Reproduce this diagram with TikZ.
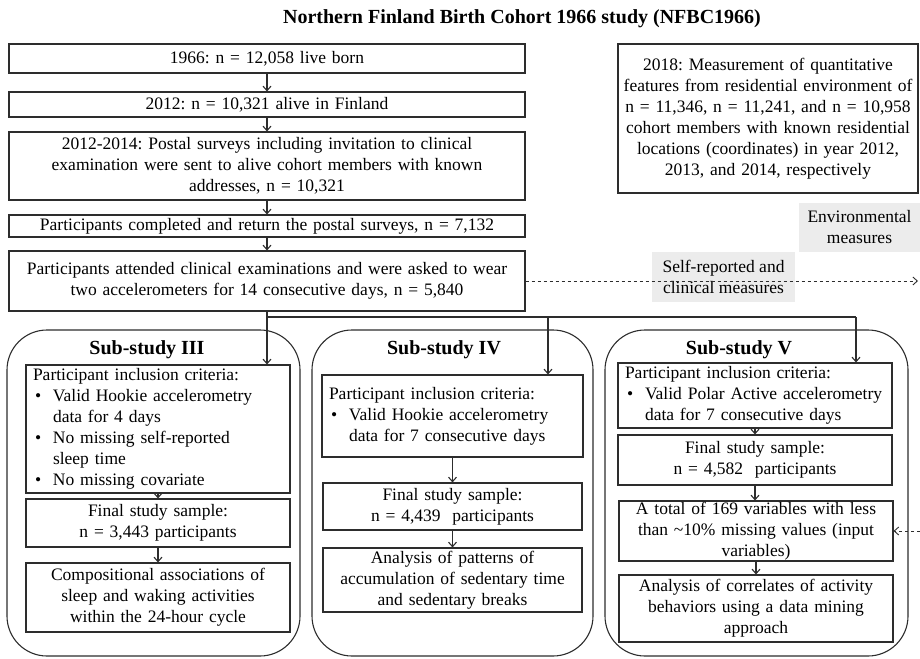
\documentclass[tikz,border=0pt]{standalone}
\usepackage{fontspec}
\setmainfont{Liberation Serif}
\usetikzlibrary{arrows.meta,calc}
\definecolor{lbl}{RGB}{236,236,236}
\definecolor{ln}{RGB}{45,45,45}
\newcommand\fsz{\fontsize{17.5}{21}\selectfont}
\newcommand\tsz{\fontsize{20}{24}\selectfont\bfseries}
\newcommand\bul{\makebox[20pt][l]{\hspace{2pt}•}}
\newcommand\ind{\hspace*{20pt}}
\frenchspacing
\begin{document}
\begin{tikzpicture}[x=1pt,y=-1pt,
  box/.style={draw=ln,line width=1.1pt,inner sep=0pt,align=center,font=\fsz},
  lbox/.style={box,align=left,inner xsep=7pt},
  group/.style={draw=ln,line width=1.1pt,rounded corners=40pt,inner sep=0pt},
  arr/.style={draw=ln,line width=1.1pt,-{Straight Barb[length=4.5pt,width=8pt]}},
  plain/.style={draw=ln,line width=1.1pt},
  dsh/.style={dash pattern=on 3.5pt off 2.5pt,line width=0.9pt},
  lab/.style={fill=lbl,inner sep=0pt,align=center,font=\fsz},
  ttl/.style={font=\tsz,inner sep=0pt}]
\useasboundingbox (0,0) rectangle (920,658);

\node[ttl] (title) at (522,19) {Northern Finland Birth Cohort 1966 study (NFBC1966)};

\node[box,minimum width=516pt,minimum height=29pt,text width=500pt] (b1) at (267,58.5) {1966: n = 12,058 live born};
\node[box,minimum width=516pt,minimum height=25pt,text width=500pt] (b2) at (267,104.5) {2012: n = 10,321 alive in Finland};
\node[box,minimum width=516pt,minimum height=68pt,text width=500pt] (b3) at (267,166) {2012-2014: Postal surveys including invitation to clinical\\examination were sent to alive cohort members with known\\addresses, n = 10,321};
\node[box,minimum width=516pt,minimum height=22pt,text width=500pt] (b4) at (267,226) {Participants completed and return the postal surveys, n = 7,132};
\node[box,minimum width=516pt,minimum height=60pt,text width=500pt] (b5) at (267,281) {Participants attended clinical examinations and were asked to wear\\two accelerometers for 14 consecutive days, n = 5,840};

\node[box,minimum width=300pt,minimum height=149pt,text width=292pt] (rb) at (768,118.5) {2018: Measurement of quantitative\\features from residential environment of\\n = 11,346, n = 11,241, and n = 10,958\\cohort members with known residential\\locations (coordinates) in year 2012,\\2013, and 2014, respectively};

\node[lab,minimum width=121pt,minimum height=49pt] (env) at (859.5,227.5) {Environmental\\measures};
\node[lab,minimum width=143pt,minimum height=50pt] (self) at (723.5,277) {Self-reported and\\clinical measures};

\node[group,minimum width=293pt,minimum height=326pt] (g3) at (153.5,493) {};
\node[group,minimum width=281pt,minimum height=326pt] (g4) at (452.5,493) {};
\node[group,minimum width=303pt,minimum height=326pt] (g5) at (756.5,493) {};

\node[ttl] (t3) at (147,350) {Sub-study III};
\node[ttl] (t4) at (444,350) {Sub-study IV};
\node[ttl] (t5) at (739,350) {Sub-study V};

\node[lbox,minimum width=264pt,minimum height=128pt,text width=250pt] (inc3) at (158,429) {Participant inclusion criteria:\\\bul Valid Hookie accelerometry\\\ind data for 4 days\\\bul No missing self-reported\\\ind sleep time\\\bul No missing covariate};
\node[box,minimum width=264pt,minimum height=48pt,text width=252pt] (fin3) at (158,523) {Final study sample:\\n = 3,443 participants};
\node[box,minimum width=264pt,minimum height=69pt,text width=252pt] (com3) at (158,597.5) {Compositional associations of\\sleep and waking activities\\within the 24-hour cycle};

\node[lbox,minimum width=261pt,minimum height=82pt,text width=247pt] (inc4) at (452.5,416) {Participant inclusion criteria:\\\bul Valid Hookie accelerometry\\\ind data for 7 consecutive days};
\node[box,minimum width=259pt,minimum height=47pt,text width=249pt] (fin4) at (452.5,506.5) {Final study sample:\\n = 4,439\ \ participants};
\node[box,minimum width=259pt,minimum height=64pt,text width=249pt] (ana4) at (452.5,580) {Analysis of patterns of\\accumulation of sedentary time\\and sedentary breaks};

\node[lbox,minimum width=274pt,minimum height=65pt,text width=260pt] (inc5) at (755,395.5) {Participant inclusion criteria:\\\bul Valid Polar Active accelerometry\\\ind data for 7 consecutive days};
\node[box,minimum width=274pt,minimum height=50pt,text width=264pt] (fin5) at (755,460) {Final study sample:\\n = 4,582\ \ participants};
\node[box,minimum width=274pt,minimum height=60pt,text width=264pt] (var5) at (756,531) {A total of 169 variables with less\\than \textasciitilde10\% missing values (input\\variables)};
\node[box,minimum width=274pt,minimum height=67pt,text width=264pt] (ana5) at (756,608.5) {Analysis of correlates of activity\\behaviors using a data mining\\approach};

\draw[arr] (b1.south) -- (b2.north);
\draw[arr] (b2.south) -- (b3.north);
\draw[arr] (b3.south) -- (b4.north);
\draw[arr] (b4.south) -- (b5.north);
\draw[arr] (b5.south) -- (b5.south |- inc3.north);
\coordinate (jy) at (0,317);
\coordinate (j) at (b5.south |- jy);
\coordinate (d4) at (548,317);
\coordinate (d5) at (856,317);
\draw[plain] (j) -- (d5);
\draw[arr] (d4) -- (d4 |- inc4.north);
\draw[arr] (d5) -- (d5 |- inc5.north);

\draw[arr] (inc3.south) -- (fin3.north);
\draw[arr] (fin3.south) -- (com3.north);
\draw[arr] (inc4.south) -- (fin4.north);
\draw[arr] (fin4.south) -- (ana4.north);
\draw[arr] (inc5.south) -- (inc5.south |- fin5.north);
\draw[arr] (fin5.south) -- (fin5.south |- var5.north);
\draw[arr] (var5.south) -- (ana5.north);

\coordinate (eR) at (918,280);
\draw[arr,dsh] (b5.east) -- (b5.east -| eR);
\coordinate (vR) at (920,531);
\draw[arr,dsh] (vR) -- (var5.east);
\end{tikzpicture}
\end{document}
